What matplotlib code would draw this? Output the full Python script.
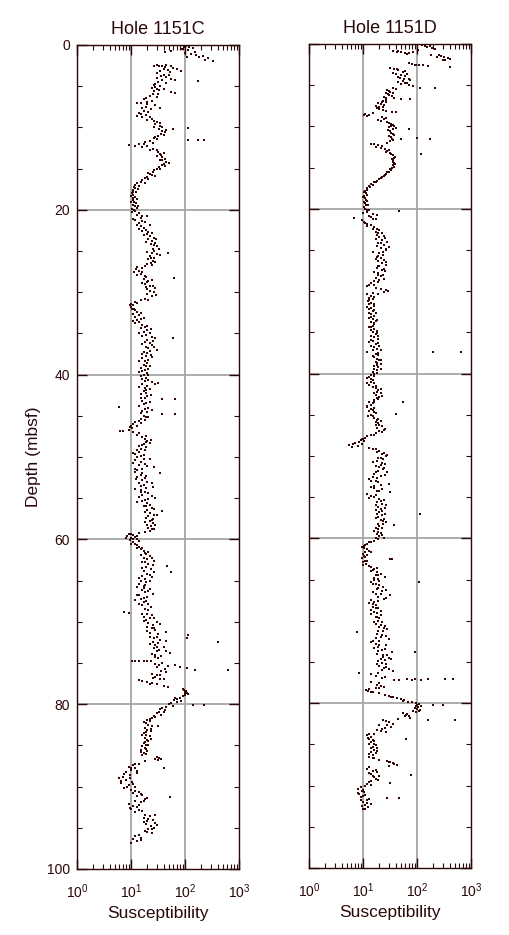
import numpy as np
import matplotlib
matplotlib.use("Agg")
import matplotlib.pyplot as plt
from matplotlib.ticker import LogLocator, MultipleLocator, NullFormatter

plt.rcParams['font.family'] = ['Liberation Sans', 'DejaVu Sans']
plt.rcParams['mathtext.fontset'] = 'custom'
plt.rcParams['mathtext.rm'] = 'Liberation Sans'
plt.rcParams['mathtext.it'] = 'Liberation Sans:italic'
plt.rcParams['mathtext.bf'] = 'Liberation Sans:bold'

#%%
# (depth mbsf, susceptibility)
hole_c = [
    (0.1, 105), (0.2, 120), (0.3, 98), (0.4, 140), (0.6, 115), (0.8, 150), (0.8, 43), (0.7, 55),
    (1.0, 100), (1.2, 160), (1.3, 210), (1.4, 110), (1.5, 180), (1.6, 270), (1.8, 230), (1.9, 330),
    (2.4, 30), (2.5, 38), (2.4, 45), (2.6, 55), (2.7, 42), (2.8, 60), (2.9, 70), (3.0, 48),
    (3.1, 85), (3.2, 35), (3.3, 52), (2.5, 26),
    (3.6, 40), (3.8, 36), (3.9, 45), (4.0, 30), (4.1, 55), (4.2, 38), (4.3, 65), (4.4, 175), (4.5, 32),
    (4.7, 28), (4.9, 26), (5.0, 35), (5.2, 24), (5.3, 30), (5.4, 40), (5.6, 27), (5.7, 55), (5.8, 65), (5.9, 32),
    (6.2, 22), (6.4, 19), (6.6, 17), (6.8, 24), (7.0, 15), (7.2, 20), (7.3, 28), (7.5, 19), (7.6, 35),
    (7.8, 23), (8.0, 17), (8.2, 14), (8.4, 15), (8.5, 19), (8.7, 22), (8.8, 16),
    (9.0, 24), (9.2, 27), (9.4, 30), (9.6, 28), (9.8, 35), (10.0, 38), (10.2, 33), (10.3, 45),
    (10.2, 60), (10.1, 114), (10.6, 42),
    (10.8, 36), (11.0, 32), (11.2, 28), (11.4, 30), (11.5, 115), (11.5, 170), (11.5, 225), (11.7, 22),
    (11.8, 18), (11.9, 25), (12.0, 14), (12.1, 9), (12.2, 12), (12.3, 20),
    (12.6, 25), (12.8, 30), (13.0, 32), (13.2, 34), (13.4, 36), (13.6, 38), (13.8, 42), (14.0, 35),
    (14.2, 45), (14.4, 40), (14.6, 37), (14.8, 33),
    (15.0, 30), (15.2, 27), (15.4, 25), (15.6, 22), (15.8, 24), (16.0, 20), (16.2, 18), (16.4, 16),
    (16.6, 15), (16.8, 13), (17.0, 12), (17.2, 11.5), (17.4, 12), (17.6, 11),
    (17.8, 11), (18.0, 10.5), (18.2, 11), (18.4, 12), (18.6, 11), (18.8, 10.8), (19.0, 11.5),
    (19.2, 12.5), (19.4, 11), (19.6, 12), (19.8, 13), (20.0, 11.5),
    (20.2, 12), (20.4, 14), (20.6, 13), (20.8, 20), (21.0, 15), (21.2, 12), (21.4, 16), (21.6, 14),
    (21.8, 22), (22.0, 15),
    (22.2, 17), (22.4, 19), (22.6, 16), (22.8, 24), (23.0, 20), (23.2, 22), (23.4, 26), (23.6, 21),
    (23.8, 24), (24.0, 28), (24.2, 23), (24.4, 30), (25.3, 49), (24.8, 25),
    (25.0, 27), (25.2, 24), (25.4, 30), (25.6, 22), (25.8, 26), (26.0, 21), (26.2, 25), (26.4, 23),
    (26.6, 20), (26.8, 18),
    (27.0, 13), (27.2, 12.5), (27.4, 14), (27.6, 16), (27.8, 15), (28.0, 18), (28.3, 63), (28.2, 19),
    (28.4, 17), (28.6, 21), (28.8, 20), (29.0, 18), (29.2, 22), (29.4, 19),
    (29.3, 25), (29.5, 28), (29.8, 22), (30.0, 26), (30.2, 20), (30.5, 24), (30.8, 18), (31.0, 21),
    (31.2, 12), (31.4, 10), (31.5, 9.5), (31.6, 11), (31.8, 10), (32.0, 11.5), (32.1, 10.5), (32.2, 12),
    (32.4, 13), (32.6, 11), (32.8, 14), (33.0, 12), (33.2, 15), (33.4, 13), (33.6, 14), (33.8, 12),
    (34.0, 16), (34.2, 18), (34.4, 15), (34.6, 20), (34.8, 17), (35.0, 22), (35.2, 19), (35.4, 24),
    (35.6, 59), (35.6, 28),
    (35.8, 20), (36.0, 18), (36.2, 22), (36.4, 24), (36.6, 19), (36.8, 21), (37.0, 30), (37.2, 17),
    (37.4, 20), (37.6, 23), (37.8, 19), (38.0, 16), (38.2, 21), (38.4, 18), (38.6, 20), (38.8, 17),
    (39.0, 19), (39.2, 15), (39.4, 18), (39.6, 16), (39.8, 20),
    (40.0, 17), (40.2, 15), (40.4, 19), (40.6, 21), (40.8, 18), (41.0, 32), (41.1, 28), (41.2, 16),
    (41.4, 20), (41.6, 18), (41.8, 22),
    (42.0, 17), (42.2, 19), (42.4, 15), (42.6, 20), (42.8, 18), (43.0, 38), (43.0, 65), (43.2, 16),
    (43.4, 19), (43.6, 17), (43.9, 6), (44.0, 21), (44.2, 18), (44.4, 16), (44.8, 38), (44.8, 65),
    (44.6, 20), (45.0, 17), (45.2, 19), (45.4, 15), (45.6, 14), (45.8, 12),
    (46.0, 11), (46.2, 10), (46.4, 9.5), (46.5, 10.5), (46.8, 6.3), (46.8, 7), (47.0, 11), (47.3, 13),
    (47.6, 16), (47.8, 18), (48.0, 20), (48.2, 19),
    (48.4, 17), (48.6, 16), (48.8, 19), (49.0, 15), (49.2, 13), (49.4, 14), (49.6, 12), (49.8, 17),
    (50.0, 13), (50.2, 22), (50.4, 12), (50.6, 15), (50.8, 18), (51.0, 14), (51.2, 27), (51.4, 16),
    (51.6, 13), (51.8, 12), (52.0, 34),
    (52.2, 15), (52.4, 13), (52.6, 18), (52.8, 16), (53.0, 20), (53.2, 14), (53.4, 17), (53.6, 25),
    (53.8, 19), (54.0, 15), (54.2, 18), (54.4, 21),
    (54.6, 16), (54.8, 14), (55.0, 28), (55.2, 18), (55.4, 16), (55.6, 20), (55.8, 22), (56.0, 17),
    (56.2, 24), (56.4, 20), (56.6, 38), (56.8, 22), (57.0, 26),
    (57.2, 21), (57.4, 19), (57.6, 24), (57.8, 22), (58.0, 25), (58.2, 20), (58.4, 23), (58.6, 21),
    (58.8, 27), (59.0, 22),
    (59.3, 10), (59.4, 9), (59.5, 11), (59.6, 8.5), (59.7, 12), (59.8, 10), (59.9, 13), (60.0, 11),
    (60.1, 9.5),
    (60.3, 11), (60.5, 12), (60.7, 13), (60.9, 14), (61.0, 16), (61.2, 15), (61.4, 17), (61.6, 18),
    (61.8, 19), (62.0, 22), (62.2, 17), (62.4, 20), (62.6, 26), (62.8, 18), (63.0, 21), (63.2, 46),
    (63.4, 19), (63.6, 23), (63.8, 17), (64.0, 55), (64.2, 20), (64.4, 16), (64.6, 24), (64.8, 18),
    (65.0, 15), (65.2, 19), (65.4, 14), (65.6, 17), (65.8, 13), (66.0, 22), (66.2, 16), (66.4, 18),
    (66.6, 25), (66.8, 14), (67.0, 20), (67.2, 15), (67.4, 12), (67.6, 17), (67.8, 21), (68.0, 16),
    (68.4, 18), (68.8, 7.4), (68.9, 9), (69.0, 20), (69.2, 24), (69.4, 17), (69.6, 22), (69.8, 19),
    (70.0, 30), (70.2, 21), (70.4, 25), (70.6, 20),
    (70.8, 24), (71.0, 28), (71.2, 45), (71.4, 22), (71.6, 115), (71.8, 30), (72.0, 26), (72.0, 110),
    (72.2, 35), (72.4, 25), (72.5, 400), (72.6, 32), (72.8, 28),
    (73.0, 40), (73.2, 26), (73.4, 33), (73.6, 30), (73.8, 52), (74.0, 28), (74.2, 36), (74.4, 31),
    (74.7, 10.5), (74.7, 12), (74.8, 14), (74.8, 17), (74.7, 20), (74.8, 23), (75.0, 38), (75.2, 33),
    (75.4, 48), (75.3, 65), (75.6, 110), (75.8, 150), (75.5, 80), (75.9, 610), (75.7, 42), (76.0, 36),
    (76.3, 24), (76.5, 30), (76.7, 28), (76.9, 40), (77.0, 34),
    (77.1, 14), (77.2, 16), (77.3, 20), (77.4, 24), (77.6, 30), (77.8, 40), (77.9, 48),
    (78.3, 95), (78.4, 105), (78.5, 100), (78.6, 110), (78.7, 98), (78.8, 112), (79.0, 92),
    (79.2, 80), (79.4, 72), (79.5, 62), (79.6, 85), (79.8, 55), (80.0, 50), (80.1, 140), (80.1, 225),
    (80.3, 45), (80.5, 38), (80.7, 42), (80.9, 33), (81.1, 30), (81.3, 36), (81.5, 28),
    (81.7, 24), (81.9, 20), (82.1, 22), (82.3, 19), (82.5, 21), (82.7, 32), (82.9, 18), (83.1, 20),
    (83.3, 23), (83.5, 17), (83.7, 19), (83.9, 22), (84.1, 18), (84.3, 20), (84.5, 21), (84.7, 17),
    (84.9, 19),
    (85.1, 16), (85.3, 18), (85.5, 15), (85.7, 20), (85.9, 17), (86.1, 19),
    (86.4, 30), (86.5, 33), (86.6, 28), (86.7, 36), (86.8, 31),
    (87.2, 14), (87.4, 11), (87.6, 9), (87.8, 12), (88.0, 10), (88.2, 8), (88.4, 13), (88.6, 9.5),
    (87.8, 40),
    (88.8, 7), (89.0, 6), (89.2, 8), (89.4, 10.5), (89.6, 6.5), (89.8, 9), (90.0, 12), (90.2, 7.5),
    (90.4, 10),
    (90.6, 14), (90.8, 11), (91.0, 16), (91.2, 13), (91.3, 52), (91.5, 18), (91.7, 12), (91.9, 15),
    (92.1, 9), (92.3, 11), (92.5, 13), (92.7, 10), (92.9, 14), (93.1, 12),
    (93.4, 18), (93.6, 22), (93.8, 17), (94.0, 25), (94.2, 20), (94.4, 28), (94.6, 19), (94.8, 23),
    (95.0, 26), (95.2, 21), (95.4, 18), (95.6, 24),
    (96.0, 12), (96.2, 15), (96.4, 11), (96.6, 13), (96.8, 10),
]

# second pass over the same hole: the scatter either side of the trend
hole_c_more = [
    (0.5, 88), (1.1, 130), (2.6, 33), (2.9, 40), (3.4, 30), (3.7, 50), (4.6, 45), (5.1, 28),
    (5.5, 33), (6.0, 25), (6.3, 30), (6.9, 20), (7.1, 13), (7.7, 16), (8.1, 21), (8.6, 13),
    (9.1, 20), (9.5, 34), (9.9, 27), (10.4, 38), (10.9, 40), (11.3, 26), (12.0, 17), (12.4, 16),
    (12.7, 22), (13.1, 40), (13.5, 30), (13.9, 37), (14.3, 50), (14.7, 42), (15.1, 35), (15.5, 21),
    (15.9, 28), (16.3, 21), (16.7, 18), (17.1, 14), (17.5, 13.5), (17.9, 12.5), (18.3, 10),
    (18.7, 13), (19.1, 10), (19.5, 13.5), (19.9, 10.5),
    (20.3, 10.5), (20.7, 16), (21.1, 11), (21.5, 18), (21.9, 13), (22.3, 14), (22.7, 21), (23.1, 17),
    (23.5, 29), (23.9, 19), (24.3, 26), (24.7, 33), (25.1, 20), (25.5, 34), (25.9, 23), (26.3, 28),
    (26.7, 24), (27.1, 16), (27.5, 11.5), (27.9, 13), (28.5, 24), (28.9, 16), (29.6, 20), (30.4, 29),
    (30.9, 15), (31.3, 13), (32.5, 15), (33.1, 17), (33.5, 11), (34.1, 20), (34.5, 23), (34.9, 14),
    (35.3, 16), (35.9, 25), (36.3, 16), (36.7, 27), (37.1, 22), (37.5, 16), (37.9, 24), (38.3, 14),
    (38.9, 22), (39.3, 21), (39.7, 14), (40.1, 21), (40.5, 16), (40.9, 24), (41.5, 14), (41.9, 19),
    (42.5, 23), (42.9, 15), (43.3, 22), (43.8, 14), (44.3, 24), (44.7, 15), (45.1, 21), (45.5, 18),
    (45.9, 15), (46.3, 13), (46.7, 9), (47.1, 14), (47.5, 19), (47.9, 23),
    (48.3, 22), (48.7, 14), (49.1, 18), (49.5, 11), (49.9, 15), (50.3, 17), (50.7, 11), (51.1, 20),
    (51.5, 12), (51.9, 16), (52.3, 19), (52.7, 12.5), (53.1, 24), (53.5, 15), (53.9, 12), (54.3, 15),
    (54.7, 24), (55.1, 21), (55.5, 13), (55.9, 19), (56.3, 27), (56.7, 18), (57.1, 30), (57.5, 25),
    (57.9, 18), (58.3, 28), (58.7, 24), (59.1, 18), (59.2, 14), (59.55, 13), (59.85, 8), (60.2, 14),
    (60.6, 10), (61.1, 13), (61.5, 21), (61.9, 15), (62.3, 24), (62.7, 16), (63.1, 25), (63.5, 16),
    (63.9, 27), (64.3, 22), (64.7, 14), (65.1, 22), (65.5, 18), (65.9, 17), (66.3, 21), (66.7, 13),
    (67.1, 17), (67.5, 19), (67.9, 14), (68.2, 23), (68.6, 21), (69.1, 16), (69.5, 27), (69.9, 17),
    (70.3, 35), (70.7, 27), (71.1, 20), (71.5, 32), (71.9, 22), (72.3, 45), (72.7, 22), (73.1, 30),
    (73.5, 45), (73.9, 24), (74.3, 28), (75.1, 28), (75.5, 30), (76.1, 45), (76.4, 35), (76.8, 25),
    (77.5, 22),
    (78.2, 90), (78.9, 100), (79.3, 65), (79.7, 70), (80.2, 60), (80.6, 35), (81.0, 40), (81.4, 26),
    (81.8, 22), (82.2, 17), (82.6, 24), (83.0, 23), (83.4, 19), (83.8, 16), (84.2, 23), (84.6, 18),
    (85.0, 21), (85.4, 19), (85.8, 15), (86.2, 16), (86.9, 18), (87.3, 12), (87.7, 10), (88.1, 13),
    (88.5, 7.5), (88.9, 9.5), (89.3, 6.5), (89.7, 11), (90.1, 8.5), (90.5, 12), (90.9, 15), (91.4, 20),
    (91.8, 17), (92.2, 14), (92.6, 9.5), (93.0, 16), (93.5, 28), (93.9, 21), (94.3, 17), (94.7, 30),
    (95.1, 24), (95.5, 20), (95.9, 14), (96.5, 15),
]

hole_d = [
    (0.1, 125), (0.4, 150), (0.3, 170), (0.6, 210), (0.7, 105), (1.0, 85),
    (0.9, 35), (1.0, 42), (1.0, 50), (1.1, 60), (1.1, 72),
    (1.3, 180), (1.4, 250), (1.6, 320), (1.7, 370), (1.8, 400), (1.9, 300), (1.6, 230),
    (2.4, 80), (2.5, 95), (2.6, 130), (2.7, 160), (2.5, 110), (2.8, 400),
    (2.9, 32), (3.0, 38), (3.2, 45), (3.4, 55), (3.6, 40), (3.8, 50),
    (3.9, 60), (4.1, 48), (4.3, 70), (4.5, 55), (4.7, 65), (4.9, 50), (5.1, 85), (5.3, 114), (5.3, 210),
    (5.4, 35), (5.6, 28), (5.8, 32), (6.0, 26), (6.2, 30), (6.4, 24), (6.6, 38), (6.8, 27),
    (6.7, 50), (6.7, 75),
    (7.0, 22), (7.2, 19), (7.4, 24), (7.6, 20), (7.8, 18), (8.0, 23), (8.2, 34), (8.3, 40),
    (8.5, 11), (8.6, 10.5), (8.7, 12), (8.6, 13),
    (8.9, 22), (9.1, 24), (9.3, 21),
    (9.5, 28), (9.7, 33), (9.9, 38), (10.1, 30), (10.3, 35), (10.3, 70),
    (10.6, 32), (10.9, 36), (11.2, 30), (11.5, 34), (11.8, 31),
    (11.5, 50), (11.4, 100), (11.5, 170),
    (12.1, 14), (12.2, 16), (12.3, 19), (12.4, 22), (12.5, 17),
    (12.8, 25), (13.0, 28), (13.2, 31), (13.3, 120),
    (13.5, 35), (13.8, 37), (14.1, 36), (14.4, 38), (14.7, 35), (15.0, 34), (15.3, 33),
    (15.6, 30), (15.8, 27), (16.0, 24), (16.2, 22), (16.4, 20), (16.6, 18),
    (16.8, 16), (17.0, 14), (17.2, 13),
    (17.5, 12), (17.8, 11), (18.1, 11.5), (18.4, 10.5), (18.7, 11), (19.0, 12), (19.3, 11), (19.6, 11.5),
    (20.0, 11), (20.2, 13), (20.4, 12), (20.6, 15), (20.8, 18), (21.0, 14), (21.2, 17),
    (20.3, 46), (21.1, 6.8),
    (21.4, 9.5), (21.6, 10.5), (21.8, 12), (22.0, 14), (22.2, 16), (22.4, 18), (22.6, 20), (22.8, 17),
    (23.0, 22),
    (23.2, 18), (23.4, 20), (23.6, 25), (23.8, 22), (24.0, 28), (24.2, 19), (24.4, 24), (24.6, 30),
    (24.8, 21), (25.0, 26),
    (25.2, 15), (25.4, 20), (25.6, 23), (25.8, 18), (26.0, 21), (26.2, 24), (26.4, 19), (26.6, 22),
    (26.8, 27), (27.0, 20), (27.2, 18), (27.4, 22), (27.6, 25), (27.8, 19), (28.0, 23), (28.2, 21),
    (28.4, 17), (28.6, 20), (28.8, 16), (29.0, 14),
    (29.2, 13), (29.4, 12), (29.6, 17), (29.8, 26), (30.0, 29), (30.1, 24), (30.2, 15),
    (30.4, 12), (30.6, 14), (30.8, 13), (31.0, 15), (31.2, 12.5), (31.4, 14), (31.6, 13), (31.8, 16),
    (32.0, 14), (32.2, 13), (32.4, 15), (32.6, 17), (32.8, 14), (33.0, 16), (33.2, 13), (33.4, 15),
    (33.6, 17), (33.8, 14), (34.0, 16), (34.2, 15), (34.4, 13), (34.6, 16), (34.8, 18), (35.0, 15),
    (35.2, 17), (35.4, 14), (35.6, 16), (35.8, 19), (36.0, 15), (36.2, 13), (36.4, 17), (36.6, 20),
    (36.8, 16), (37.0, 18), (37.2, 15), (37.4, 12), (37.4, 200), (37.4, 640),
    (37.6, 17), (37.8, 19), (38.0, 16), (38.2, 18), (38.4, 20), (38.6, 17), (38.8, 21), (39.0, 18),
    (39.2, 19), (39.4, 16), (39.6, 18), (39.8, 15), (40.0, 16),
    (40.2, 14), (40.4, 13), (40.6, 12), (40.8, 15), (41.0, 14), (41.2, 16), (41.4, 13), (41.6, 15),
    (41.8, 17), (42.0, 19), (42.2, 18), (42.4, 21), (42.6, 17), (42.8, 20), (43.0, 18), (43.2, 16),
    (43.4, 55),
    (43.4, 13), (43.6, 15), (43.8, 14), (44.0, 12), (44.2, 16), (44.4, 15), (44.6, 13), (44.8, 17),
    (45.0, 14), (45.2, 15), (44.9, 40),
    (45.4, 16), (45.6, 18), (45.8, 21), (46.0, 19), (46.2, 17), (46.4, 22), (46.6, 18), (46.8, 24),
    (47.0, 20), (47.2, 17),
    (47.4, 14), (47.6, 12), (47.8, 11), (48.0, 10), (48.1, 9), (48.3, 8.5), (48.4, 7), (48.5, 6.5),
    (48.2, 10.5), (48.6, 9.5), (48.7, 5.5), (48.9, 6.3), (48.8, 8),
    (49.0, 13), (49.2, 15), (49.4, 20), (49.6, 24), (49.8, 22), (50.0, 26), (50.2, 19), (50.4, 23),
    (50.6, 18), (50.8, 22), (51.0, 25), (51.2, 17), (51.4, 20), (51.6, 23), (51.8, 19), (52.0, 28),
    (52.2, 16), (52.4, 21),
    (52.6, 15), (52.8, 13), (53.0, 17), (53.2, 19), (53.4, 30), (53.6, 16), (53.8, 14), (54.0, 22),
    (54.2, 18), (54.4, 32),
    (54.6, 12), (54.8, 14), (55.0, 16), (55.2, 20), (55.4, 24), (55.6, 18), (55.8, 22), (56.0, 27),
    (56.2, 19), (56.4, 21), (57.0, 112),
    (56.6, 17), (56.8, 20), (57.0, 18), (57.2, 22), (57.4, 19), (57.6, 24), (57.8, 21), (58.0, 26),
    (58.2, 23), (58.4, 38), (58.5, 20),
    (58.7, 17), (58.9, 19), (59.1, 16), (59.3, 21), (59.5, 18), (59.7, 20), (59.9, 24), (60.1, 19),
    (60.3, 16), (60.5, 14), (60.7, 12), (60.9, 10.5), (61.1, 9.5), (61.3, 12), (61.5, 13), (61.7, 11),
    (61.9, 10), (62.1, 10.5), (62.3, 11), (62.5, 31), (62.5, 34), (62.7, 12), (62.9, 10), (63.1, 11.5),
    (63.3, 13),
    (63.5, 14), (63.7, 16), (63.9, 15), (64.1, 18), (64.3, 21), (64.5, 17), (64.7, 25), (64.9, 19),
    (65.3, 107),
    (65.1, 16), (65.3, 14), (65.5, 17), (65.7, 20), (65.9, 23), (66.1, 18), (66.3, 26), (66.5, 15),
    (66.7, 21), (66.9, 32), (67.1, 19), (67.3, 24),
    (67.5, 14), (67.7, 16), (67.9, 13), (68.1, 17), (68.3, 15), (68.5, 19), (68.7, 14), (68.9, 16),
    (69.1, 18), (69.3, 21), (69.5, 17), (69.7, 20), (71.4, 7.7),
    (70.0, 19), (70.2, 22), (70.4, 17), (70.6, 25), (70.8, 20), (71.0, 28), (71.2, 23), (71.6, 18),
    (71.8, 26), (72.0, 21), (72.2, 30),
    (72.4, 15), (72.6, 14), (72.8, 17), (73.0, 20), (73.2, 19), (73.4, 25), (73.6, 22), (73.8, 34),
    (73.8, 90), (74.0, 18), (74.2, 28), (74.4, 23), (74.6, 21), (74.7, 33),
    (74.9, 19), (75.1, 22), (75.3, 26), (75.5, 20), (75.7, 24), (75.9, 30), (76.1, 35), (76.3, 8.5),
    (76.5, 14), (76.7, 17), (76.9, 22), (77.2, 37), (77.2, 47),
    (77.1, 65), (77.2, 80), (77.1, 90), (77.2, 120), (77.1, 160), (77.1, 330), (77.1, 460),
    (77.8, 18), (77.9, 21), (78.0, 24), (78.1, 20), (78.3, 13), (78.4, 11.5), (78.5, 12.5), (78.6, 15),
    (78.8, 20), (79.0, 25), (79.1, 30), (79.2, 36), (79.4, 42), (79.5, 50), (79.6, 58), (79.8, 68),
    (79.9, 80),
    (80.0, 95), (80.1, 110), (80.2, 100), (80.3, 120), (80.5, 105), (80.6, 90), (80.8, 115), (81.0, 85),
    (80.2, 200), (80.2, 300), (82.0, 160), (82.0, 510),
    (81.2, 55), (81.3, 65), (81.5, 70), (81.6, 60), (81.8, 75),
    (82.1, 23), (82.3, 30), (82.5, 35), (82.7, 28), (82.9, 33), (83.1, 22), (83.3, 18), (83.5, 26),
    (84.4, 63),
    (83.7, 13), (83.9, 12), (84.1, 14), (84.3, 13), (84.5, 15), (84.7, 14), (84.9, 16), (85.1, 17),
    (85.3, 15), (85.5, 18), (85.7, 16), (85.9, 14), (86.1, 17), (86.3, 15), (86.5, 13), (86.7, 16),
    (87.0, 28), (87.1, 32), (87.2, 30), (87.3, 35), (87.4, 38), (87.5, 42), (88.7, 78),
    (87.8, 13), (88.0, 12), (88.2, 15), (88.4, 18), (88.6, 14), (88.8, 20), (89.0, 16), (89.2, 17),
    (89.4, 14), (89.6, 13), (89.8, 12), (89.7, 32),
    (90.2, 9), (90.4, 8), (90.6, 9.5), (90.8, 10.5), (91.0, 8.5), (91.2, 11), (91.4, 9), (91.6, 13),
    (91.8, 12), (92.0, 10), (92.2, 14), (92.4, 11), (92.6, 12.5), (92.8, 10), (91.5, 28), (91.5, 46),
]

hole_d_more = [
    (0.2, 140), (0.5, 190), (0.8, 45), (1.2, 65), (1.5, 280), (2.0, 330), (2.3, 70), (2.6, 90),
    (3.1, 42), (3.3, 60), (3.5, 36), (3.7, 65), (4.0, 44), (4.2, 58), (4.4, 75), (4.6, 45),
    (4.8, 60), (5.0, 70), (5.5, 40), (5.7, 30), (5.9, 36), (6.1, 29), (6.3, 34), (6.5, 26),
    (6.9, 23), (7.1, 26), (7.3, 21), (7.5, 17), (7.7, 23), (7.9, 20), (8.1, 27), (8.4, 15),
    (9.0, 26), (9.2, 19), (9.6, 30), (9.8, 36), (10.0, 33), (10.2, 40), (10.5, 29), (10.8, 33),
    (11.0, 38), (11.3, 33), (11.7, 36), (12.0, 28), (12.6, 21), (12.9, 30), (13.1, 26), (13.4, 33),
    (13.7, 39), (14.0, 34), (14.3, 36), (14.6, 39), (14.9, 37), (15.2, 31), (15.5, 28), (15.9, 25),
    (16.3, 21), (16.7, 17), (17.1, 15), (17.4, 13.5), (17.7, 12), (18.0, 10.5), (18.3, 12),
    (18.6, 10), (18.9, 11.5), (19.2, 10.5), (19.5, 12.5), (19.8, 10.5),
    (20.1, 12), (20.5, 10), (20.9, 13), (21.3, 15), (21.7, 11), (22.1, 12), (22.5, 15), (22.9, 19),
    (23.3, 24), (23.7, 17), (24.1, 21), (24.5, 18), (24.9, 27), (25.3, 23), (25.7, 19), (26.1, 17),
    (26.5, 26), (26.9, 19), (27.3, 24), (27.7, 16), (28.1, 19), (28.5, 24), (28.9, 19), (29.3, 16),
    (29.7, 21), (30.3, 19), (30.7, 16), (31.1, 13), (31.5, 16), (31.9, 12), (32.3, 16), (32.7, 13),
    (33.1, 14), (33.5, 18), (33.9, 16), (34.3, 14), (34.7, 14), (35.1, 18), (35.5, 19), (35.9, 14),
    (36.3, 19), (36.7, 14), (37.1, 21), (37.5, 19), (37.9, 15), (38.3, 21), (38.7, 18), (39.1, 16),
    (39.5, 21), (39.9, 18), (40.3, 16), (40.7, 14), (41.1, 12), (41.5, 17), (41.9, 21), (42.3, 16),
    (42.7, 22), (43.1, 19), (43.5, 16), (43.9, 12), (44.3, 14), (44.7, 16), (45.1, 12.5), (45.5, 19),
    (45.9, 17), (46.3, 20), (46.7, 25), (47.1, 22), (47.5, 16), (47.9, 9.5),
    (49.1, 17), (49.5, 18), (49.9, 28), (50.3, 21), (50.7, 15), (51.1, 21), (51.5, 24), (51.9, 17),
    (52.3, 25), (52.7, 18), (53.1, 14), (53.5, 21), (53.9, 16), (54.3, 20), (54.7, 17), (55.1, 13),
    (55.5, 21), (55.9, 17), (56.3, 25), (56.7, 22), (57.1, 25), (57.5, 17), (57.9, 23), (58.3, 19),
    (58.8, 22), (59.2, 19), (59.6, 22), (60.0, 17), (60.4, 13), (60.8, 11), (61.2, 10.5), (61.6, 14),
    (62.0, 12), (62.4, 9.5), (62.8, 11), (63.2, 10), (63.6, 18), (64.0, 14), (64.4, 19), (64.8, 16),
    (65.2, 20), (65.6, 15), (66.0, 19), (66.4, 22), (66.8, 17), (67.2, 27), (67.6, 19), (68.0, 15),
    (68.4, 17), (68.8, 21), (69.2, 14), (69.6, 18), (70.1, 16), (70.5, 21), (70.9, 24), (71.3, 19),
    (71.7, 22), (72.1, 17), (72.5, 20), (72.9, 26), (73.3, 16), (73.7, 19), (74.1, 23), (74.5, 30),
    (74.8, 25), (75.2, 18), (75.6, 27), (76.0, 22), (76.4, 19), (76.8, 25), (77.6, 20), (77.4, 14),
    (78.2, 17), (78.7, 14), (79.3, 33), (79.7, 55), (80.4, 95), (80.7, 100), (80.9, 110), (81.1, 95),
    (81.4, 62), (81.9, 45), (82.2, 27), (82.6, 20), (83.0, 25), (83.4, 21), (83.8, 16), (84.2, 12.5),
    (84.6, 16), (85.0, 13), (85.4, 14), (85.8, 18), (86.2, 13), (86.6, 15), (86.9, 20), (87.6, 30),
    (88.1, 17), (88.5, 13), (88.9, 15), (89.3, 19), (89.9, 14), (90.1, 11), (90.5, 10), (90.9, 8),
    (91.3, 10), (91.7, 9), (92.1, 12), (92.5, 9.5), (92.9, 11),
]

holes = ["Hole 1151C", "Hole 1151D"]
depth_ticks = [0, 20, 40, 60, 80, 100]

ink = "#2b0808"
dot = "#300606"
grid_c = "#a6a6a6"

#%%
fig = plt.figure(figsize=(5.10, 9.35), dpi=100)
ax_c = fig.add_axes([0.151, 0.0706, 0.318, 0.8813])
ax_d = fig.add_axes([0.606, 0.0717, 0.318, 0.8813])

for ax, name, pts in zip([ax_c, ax_d], holes, [hole_c + hole_c_more, hole_d + hole_d_more]):
    depth = np.array([p[0] for p in pts])
    susc = np.array([p[1] for p in pts])

    for v in [10, 100]:
        ax.axvline(v, color=grid_c, lw=1.3, zorder=1)
    for d in depth_ticks[1:-1]:
        ax.axhline(d, color=grid_c, lw=1.3, zorder=1)

    ax.plot(susc, depth, 's', color=dot, markersize=2.1, markeredgewidth=0, zorder=3)

    ax.set_xscale('log')
    ax.set_xlim(1, 1000)
    ax.set_ylim(100, 0)
    ax.xaxis.set_major_locator(LogLocator(base=10, numticks=10))
    ax.xaxis.set_minor_locator(LogLocator(base=10, subs=np.arange(2, 10), numticks=10))
    ax.xaxis.set_minor_formatter(NullFormatter())
    ax.set_yticks(depth_ticks)
    ax.yaxis.set_minor_locator(MultipleLocator(5))

    ax.tick_params(which='both', direction='in', top=True, right=True, colors=ink,
                   labelsize=10, labelcolor=ink)
    ax.tick_params(which='major', length=7, width=1)
    ax.tick_params(which='minor', length=3.6, width=0.8)
    ax.tick_params(axis='x', pad=10)
    ax.tick_params(axis='y', pad=5)
    for s in ax.spines.values():
        s.set_color(ink)
        s.set_linewidth(1.0)

    ax.set_title(name, fontsize=13, color=ink, pad=8)
    ax.set_xlabel("Susceptibility", fontsize=12.5, color=ink, labelpad=3)

ax_c.set_ylabel("Depth (mbsf)", fontsize=12.5, color=ink, labelpad=4)
ax_d.tick_params(axis='y', labelleft=False)

fig.savefig("out.png", dpi=100)
